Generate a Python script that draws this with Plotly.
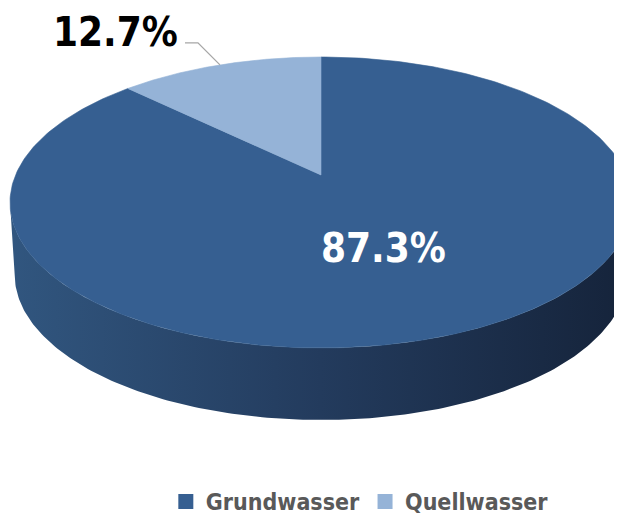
import numpy as np
import plotly.graph_objects as go

# ---- data ----
categories = ["Grundwasser", "Quellwasser"]
values = [87.3, 12.7]
label_texts = ["87.3%", "12.7%"]
top_colors = ["#365F91", "#95B3D7"]

# ---- geometry / style constants ----
W, H = 622, 516
OFF = 8             # page body margin offset
FW, FH = W - OFF, H - OFF
CX, CY, RX, RY = 321, 202.5, 311, 145.5
A = -0.189          # perspective shift of the disc centre
DEPTH = 72
BOTTOM_SCALE = 0.985
FONT = "DejaVu Sans Condensed"


def project(u, v, bottom=False):
    k = 1 + A * v
    rx = RX * (BOTTOM_SCALE if bottom else 1.0)
    x = CX + rx * np.sqrt(1 - A * A) * u / k
    y = CY + RY * (v + A) / k + (DEPTH if bottom else 0)
    return x, y


def circ(phi_deg, r=1.0):
    p = np.radians(phi_deg)
    return r * np.sin(p), -r * np.cos(p)


total = sum(values)
starts = np.concatenate([[0], np.cumsum(values)[:-1]]) / total * 360
ends = np.cumsum(values) / total * 360

fig = go.Figure()

# ---- side walls (front-facing part of each slice) ----
vis_lo = np.degrees(np.arccos(A))       # phi where v = -A
vis_hi = 360 - vis_lo
for cat, s, e in zip(categories, starts, ends):
    lo, hi = max(s, vis_lo), min(e, vis_hi)
    if hi <= lo:
        continue
    phi = np.linspace(lo, hi, 200)
    u, v = circ(phi)
    xt, yt = project(u, v)
    xb, yb = project(u, v, bottom=True)
    xs = np.concatenate([xt, xb[::-1], xt[:1]])
    ys = np.concatenate([yt, yb[::-1], yt[:1]])
    fig.add_trace(go.Scatter(
        x=xs, y=ys, mode="lines", fill="toself",
        line=dict(width=0),
        fillgradient=dict(type="horizontal",
                          colorscale=[[0, "#31567f"], [0.5, "#233b5d"], [1, "#15233a"]]),
        hoverinfo="skip", showlegend=False))

# ---- top faces ----
for cat, s, e, col in zip(categories, starts, ends, top_colors):
    phi = np.linspace(s, e, 300)
    u, v = circ(phi)
    xt, yt = project(u, v)
    x0, y0 = project(0.0, 0.0)
    xs = np.concatenate([[x0], xt, [x0]])
    ys = np.concatenate([[y0], yt, [y0]])
    fig.add_trace(go.Scatter(
        x=xs, y=ys, mode="lines", fill="toself", fillcolor=col,
        line=dict(width=0.6, color=col), hoverinfo="skip", showlegend=False))

# ---- legend entries ----
for cat, col in zip(categories, top_colors):
    fig.add_trace(go.Scatter(
        x=[None], y=[None], mode="markers", name=cat,
        marker=dict(symbol="square", size=15, color=col)))

# ---- data labels ----
mid0 = (starts[0] + ends[0]) / 2
lx, ly = project(*circ(mid0, 0.5))
fig.add_annotation(x=lx - 2, y=ly + 2, text=label_texts[0], showarrow=False,
                   font=dict(family=FONT, size=40, color="white", weight="bold"),
                   xanchor="center", yanchor="middle")

mid1 = (starts[1] + ends[1]) / 2
ex, ey = project(*circ(mid1, 1.0))
kx, ky = ex - 22, ey - 22
fig.add_trace(go.Scatter(
    x=[ex, kx, kx - 13], y=[ey, ky, ky], mode="lines",
    line=dict(color="#A6A6A6", width=1.3), hoverinfo="skip", showlegend=False))
fig.add_annotation(x=kx - 18, y=ky - 11, text=label_texts[1], showarrow=False,
                   font=dict(family=FONT, size=40, color="black", weight="bold"),
                   xanchor="right", yanchor="middle")

fig.update_layout(
    width=FW, height=FH,
    margin=dict(l=0, r=0, t=0, b=0, autoexpand=False),
    paper_bgcolor="white", plot_bgcolor="white",
    xaxis=dict(range=[OFF, W], visible=False, fixedrange=True),
    yaxis=dict(range=[H, OFF], visible=False, fixedrange=True),
    legend=dict(orientation="h", x=0.573, xanchor="center", y=-0.0138, yanchor="bottom",
                font=dict(family=FONT, size=23, color="#595959", weight="bold"),
                itemclick=False, bgcolor="rgba(0,0,0,0)", borderwidth=0),
)

fig.write_html("out.html")
